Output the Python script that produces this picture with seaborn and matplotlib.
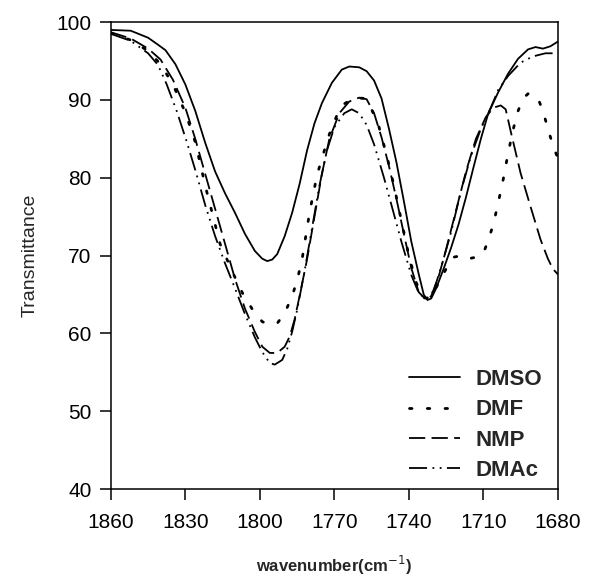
import numpy as np
import pandas as pd
import matplotlib
matplotlib.use("Agg")
import matplotlib.pyplot as plt
import seaborn as sns

# ---- data ----
dmso_wn = [1860, 1852, 1845, 1841, 1838, 1834, 1830, 1826, 1822, 1818, 1814, 1810, 1806, 1802,
           1799, 1797, 1795, 1793, 1790, 1787, 1784, 1781, 1778, 1775, 1771, 1767, 1764, 1760,
           1757, 1754, 1751, 1748, 1745, 1742, 1739, 1736, 1734, 1732.5, 1731, 1729, 1726, 1723,
           1720, 1717, 1714, 1711, 1708, 1704, 1700, 1696, 1692, 1689, 1686, 1683, 1680]
dmso_t = [99.0, 98.9, 98.0, 97.1, 96.4, 94.6, 92.0, 88.6, 84.5, 80.8, 78.0, 75.5, 72.8, 70.6,
          69.6, 69.3, 69.5, 70.2, 72.5, 75.5, 79.2, 83.5, 87.0, 89.6, 92.2, 93.9, 94.3, 94.2,
          93.7, 92.5, 90.2, 86.3, 82.0, 77.0, 71.8, 67.6, 65.0, 64.3, 64.5, 65.8, 68.3, 71.0,
          74.0, 77.5, 81.3, 85.0, 88.3, 91.0, 93.4, 95.3, 96.5, 96.8, 96.6, 96.9, 97.5]

dmf_wn = [1860, 1852, 1845, 1840, 1835, 1830, 1826, 1822, 1816, 1810, 1807, 1803, 1799, 1796,
          1793, 1790, 1787, 1785, 1783, 1780, 1777, 1775, 1772, 1769, 1766, 1762, 1758, 1755,
          1752, 1749, 1746, 1743, 1740, 1737, 1734, 1732, 1730, 1728, 1725, 1722, 1719, 1716,
          1713, 1710, 1708, 1706, 1704, 1702, 1700, 1698, 1696, 1694, 1692, 1690, 1688, 1686,
          1684, 1682, 1680]
dmf_t = [98.6, 97.7, 96.3, 94.6, 92.0, 88.4, 84.6, 79.0, 71.5, 67.2, 65.2, 63.1, 61.5, 61.2,
         61.3, 62.6, 64.8, 66.8, 69.5, 75.5, 80.3, 82.5, 85.6, 88.0, 89.5, 90.3, 90.2, 88.8,
         86.5, 83.0, 79.0, 74.5, 70.0, 66.5, 64.6, 64.5, 65.3, 66.5, 68.3, 69.8, 70.0, 69.6,
         69.8, 70.3, 72.0, 74.0, 76.8, 79.8, 83.2, 86.2, 88.6, 90.2, 90.8, 90.7, 90.2, 88.6,
         86.3, 84.2, 82.5]

nmp_wn = [1860, 1852, 1845, 1840, 1835, 1830, 1826, 1822, 1818, 1814, 1810, 1806, 1802, 1799,
          1796, 1793, 1790, 1788, 1786, 1784, 1781, 1778, 1775, 1772, 1768, 1764, 1760, 1757,
          1754, 1751, 1748, 1745, 1742, 1739, 1736, 1733, 1731, 1728, 1725, 1721, 1717, 1713,
          1709, 1706, 1703, 1701, 1699, 1695, 1691, 1687, 1684, 1682, 1680]
nmp_t = [98.7, 97.9, 96.6, 95.2, 92.6, 89.0, 85.0, 80.5, 76.0, 71.5, 67.0, 63.2, 60.2, 58.3,
         57.5, 57.5, 58.3, 59.6, 61.8, 64.8, 69.5, 75.0, 80.5, 85.0, 88.3, 89.8, 90.3, 90.1,
         88.3, 85.2, 81.5, 77.3, 72.8, 68.4, 65.3, 64.3, 64.8, 67.3, 70.8, 75.8, 80.8, 85.0,
         87.8, 89.0, 89.3, 88.8, 86.0, 80.6, 76.3, 72.1, 69.6, 68.3, 67.6]

dmac_wn = [1860, 1852, 1845, 1841, 1837.5, 1833.5, 1829.5, 1826, 1822, 1818, 1814, 1810, 1806,
           1802, 1799, 1796, 1794, 1791, 1789, 1787, 1785, 1782, 1779, 1776, 1773, 1770, 1766,
           1763, 1760, 1757, 1754, 1750, 1747, 1743, 1739, 1736, 1733, 1730, 1727, 1723, 1719,
           1715, 1711, 1707, 1704, 1700, 1695, 1690, 1685, 1682]
dmac_t = [98.5, 97.6, 96.0, 94.5, 92.0, 88.6, 84.7, 81.0, 76.5, 72.5, 69.0, 65.8, 62.5,
          59.5, 57.6, 56.2, 56.0, 56.6, 58.0, 60.2, 63.0, 68.0, 73.5, 79.0, 83.5, 86.5, 88.3,
          88.8, 88.3, 86.8, 84.3, 80.0, 76.5, 71.8, 67.5, 65.2, 64.4, 65.5, 68.5, 73.0, 78.3,
          82.8, 86.3, 89.0, 91.3, 93.1, 94.8, 95.6, 96.0, 96.0]

series_names = ["DMSO", "DMF", "NMP", "DMAc"]
x_ticks = [1860, 1830, 1800, 1770, 1740, 1710, 1680]
y_ticks = [40, 50, 60, 70, 80, 90, 100]

# ---- plotting ----
sns.set_theme(style="ticks")
plt.rcParams["font.family"] = ["Liberation Sans", "DejaVu Sans"]
plt.rcParams["axes.linewidth"] = 1.1

fig = plt.figure(figsize=(6.09, 5.83), dpi=100)
ax = fig.add_axes([0.182, 0.161, 0.734, 0.801])

styles = {
    "DMSO": dict(linestyle="-", linewidth=1.3),
    "DMF": dict(linestyle=(0, (0.9, 5.5)), linewidth=2.0, dash_capstyle="round"),
    "NMP": dict(linestyle=(0, (9, 3.5)), linewidth=1.3),
    "DMAc": dict(linestyle=(0, (10, 3, 1, 3, 1, 3)), linewidth=1.3),
}
data = {
    "DMSO": (dmso_wn, dmso_t),
    "DMF": (dmf_wn, dmf_t),
    "NMP": (nmp_wn, nmp_t),
    "DMAc": (dmac_wn, dmac_t),
}
for name in series_names:
    wn, t = data[name]
    df = pd.DataFrame({"wn": wn, "t": t})
    sns.lineplot(data=df, x="wn", y="t", sort=False, ax=ax, color="black",
                 label=name, **styles[name])

ax.set_xlim(1860, 1680)
ax.set_ylim(40, 100)
ax.set_xticks(x_ticks)
ax.set_yticks(y_ticks)
ax.tick_params(axis="both", direction="out", length=8, width=1.1, labelsize=15,
               colors="black", pad=6)
ax.tick_params(axis="x", pad=9)
for s in ax.spines.values():
    s.set_visible(True)
    s.set_color("black")

ax.set_xlabel("wavenumber(cm$^{-1}$)", fontsize=12, fontweight="bold", labelpad=16)
ax.set_ylabel("Transmittance", fontsize=14, labelpad=13)

leg = ax.legend(loc="lower right", bbox_to_anchor=(1.0, -0.016), frameon=False,
                prop={"size": 16, "weight": "bold"}, handlelength=2.3,
                handletextpad=0.7, labelspacing=0.42, borderaxespad=0.3)

fig.savefig("out.png", dpi=100)
